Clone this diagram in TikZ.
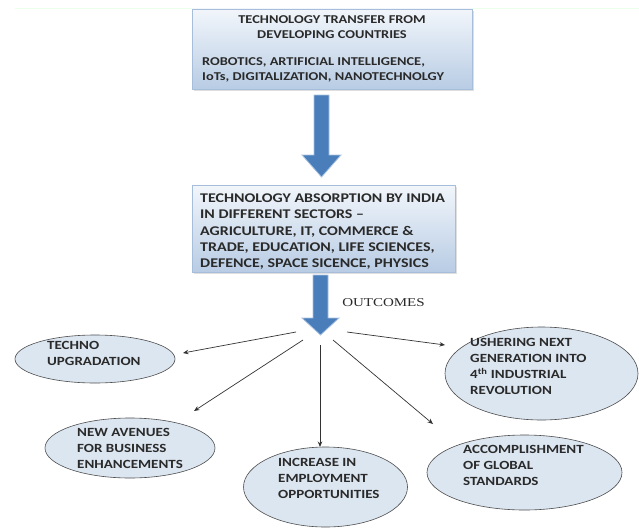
\documentclass[tikz,border=0pt]{standalone}
\usepackage{fontspec}
\setmainfont{Liberation Serif}
\newfontfamily\boxfont[FakeStretch=1.2]{Carlito}
\newfontfamily\outfont[FakeStretch=1.25]{Liberation Serif}
\usetikzlibrary{shapes.geometric,arrows.meta,shadows}
\definecolor{boxtop}{HTML}{F2F6FB}
\definecolor{boxbot}{HTML}{B8CCE4}
\definecolor{boxline}{HTML}{A7BEDA}
\definecolor{arrowblue}{HTML}{4A7EBB}
\definecolor{arrowedge}{HTML}{A9C2E2}
\definecolor{ellfill}{HTML}{DCE6F1}
\definecolor{txt}{HTML}{2A2A2A}
\tikzset{
  techbox/.style={rectangle, draw=boxline, line width=0.6pt, top color=boxtop, bottom color=boxbot,
    drop shadow={opacity=0.25, shadow xshift=2pt, shadow yshift=-2pt}, inner sep=0pt},
  outell/.style={ellipse, draw=black!70, line width=0.6pt, fill=ellfill, inner sep=0pt},
  boxtxt/.style={text=txt, inner sep=0pt, align=left, font=\boxfont\bfseries\fontsize{12}{15}\selectfont},
  boxtxtb/.style={text=txt, inner sep=0pt, align=left, font=\boxfont\bfseries\fontsize{13.3}{16.3}\selectfont},
  elltxt/.style={text=txt, inner sep=0pt, align=left, anchor=north west, font=\boxfont\bfseries\fontsize{12.5}{16}\selectfont},
  bluearrow/.style={fill=arrowblue, draw=arrowedge, line width=0.8pt, line join=miter},
  outarrow/.style={draw=black!80, line width=0.7pt, -{Stealth[length=5.5pt,width=4.5pt]}}
}
\begin{document}
\begin{tikzpicture}[x=1pt,y=-1pt]
\useasboundingbox (0,0) rectangle (639,527);
\fill[white] (0,0) rectangle (639,527);
\draw[green!8!white, line width=0.8pt] (15,8) -- (639,8);

% top box
\node[techbox, minimum width=280pt, minimum height=80pt] (box1) at (332,49) {};
\node[boxtxt, align=center] (b1a) at (332,27.5) {TECHNOLOGY TRANSFER FROM\\DEVELOPING COUNTRIES};
\node[boxtxt, anchor=north west] (b1b) at (202,57.5) {ROBOTICS, ARTIFICIAL INTELLIGENCE,\\IoTs, DIGITALIZATION, NANOTECHNOLGY};

% block arrow 1
\coordinate (a1top) at (321.5,95);
\coordinate (a1tip) at (321.5,177);
\path[bluearrow] (314,95) -- (329,95) -- (329,155) -- (341,155) -- (a1tip) -- (302,155) -- (314,155) -- cycle;

% second box
\node[techbox, minimum width=263pt, minimum height=87pt] (box2) at (323.5,228.5) {};
\node[boxtxtb, anchor=north west] (b2) at (200,193.5) {TECHNOLOGY ABSORPTION BY INDIA\\IN DIFFERENT SECTORS \textendash\\AGRICULTURE, IT, COMMERCE \&\\TRADE, EDUCATION, LIFE SCIENCES,\\DEFENCE, SPACE SICENCE, PHYSICS};

% block arrow 2
\coordinate (a2tip) at (320.5,335);
\path[bluearrow] (313,275) -- (328,275) -- (328,318) -- (339,318) -- (a2tip) -- (302,318) -- (313,318) -- cycle;
\node[text=txt, inner sep=0pt, font=\outfont\fontsize{12}{14}\selectfont] (outc) at (383.5,303) {OUTCOMES};

% outcome ellipses
\node[outell, minimum width=160pt, minimum height=48pt] (techno) at (95,359) {};
\node[outell, minimum width=193pt, minimum height=93pt] (usher) at (541.5,373.5) {};
\node[outell, minimum width=170pt, minimum height=60pt] (avenues) at (130,448) {};
\node[outell, minimum width=164pt, minimum height=80pt] (increase) at (325.5,487) {};
\node[outell, minimum width=195pt, minimum height=75pt] (accomp) at (524.5,472.5) {};

\node[elltxt] (tt) at (47,341.5) {TECHNO\\UPGRADATION};
\node[elltxt] (ut) at (470,338.5) {USHERING NEXT\\GENERATION INTO\\4\textsuperscript{th} INDUSTRIAL\\REVOLUTION};
\begin{scope}
\clip (40,420) rectangle (220,470.5);
\node[elltxt] (at) at (77,428.5) {NEW AVENUES\\FOR BUSINESS\\ENHANCEMENTS};
\end{scope}
\node[elltxt] (it) at (278,458.5) {INCREASE IN\\EMPLOYMENT\\OPPORTUNITIES};
\node[elltxt] (ct) at (463,445.5) {ACCOMPLISHMENT\\OF GLOBAL\\STANDARDS};

% connectors
\coordinate (s1) at (296,332); \coordinate (t1) at (183,353);
\coordinate (s2) at (347,332); \coordinate (t2) at (445,345);
\coordinate (s3) at (303,340); \coordinate (t3) at (194,411);
\coordinate (s4) at (320,345); \coordinate (t4) at (320,447);
\coordinate (s5) at (333,340); \coordinate (t5) at (433,424);
\draw[outarrow] (s1) -- (t1);
\draw[outarrow] (s2) -- (t2);
\draw[outarrow] (s3) -- (t3);
\draw[outarrow] (s4) -- (t4);
\draw[outarrow] (s5) -- (t5);
\end{tikzpicture}
\end{document}
